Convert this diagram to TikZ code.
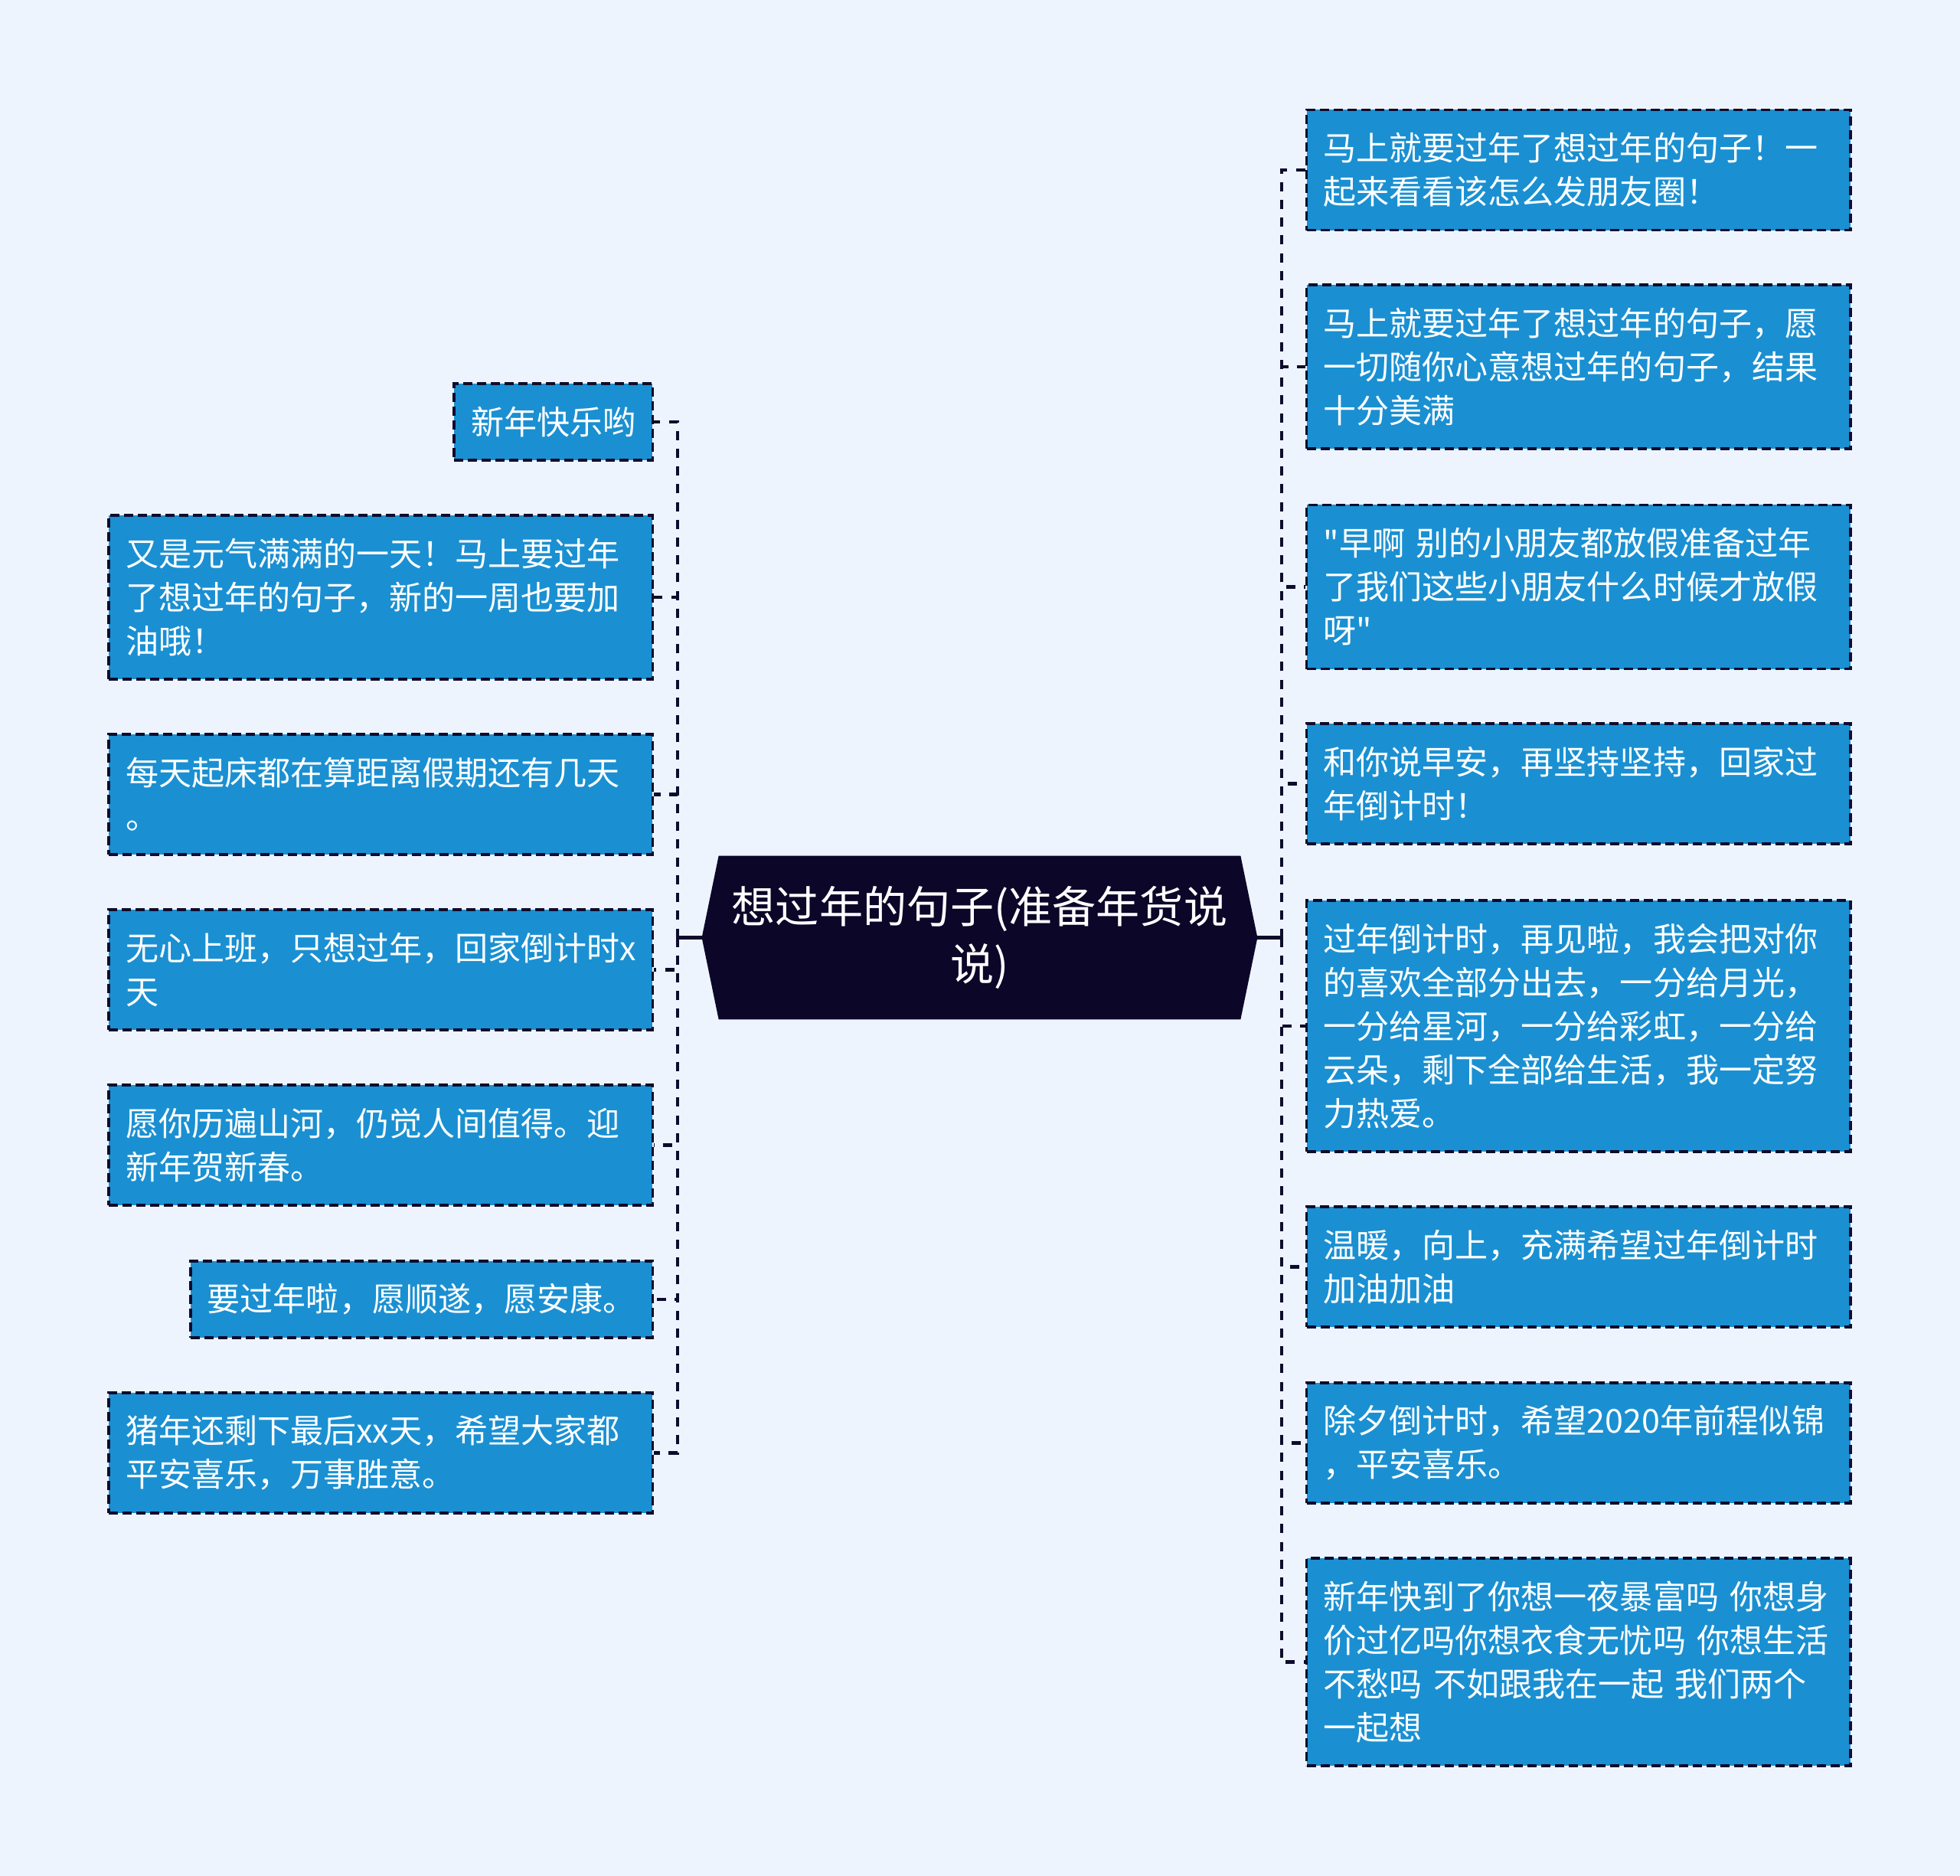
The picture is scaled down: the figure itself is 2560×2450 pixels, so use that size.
\documentclass[tikz,border=0pt]{standalone}
\usepackage{fontspec}
\newfontfamily\cjk{Noto Sans CJK SC}
\usetikzlibrary{backgrounds}
\definecolor{pagebg}{RGB}{238,244,254}
\definecolor{leafblue}{RGB}{26,144,210}
\definecolor{inkline}{RGB}{14,12,44}
\definecolor{rootink}{RGB}{12,6,41}

\begin{document}
\begin{tikzpicture}[
    x=0.025cm, y=-0.025cm,
    leaf/.style={rectangle, fill=leafblue, draw=inkline, line width=0.085cm,
        dash pattern=on 0.3cm off 0.15cm, text=white,
        font=\cjk\fontsize{30.6pt}{40.5pt}\selectfont, align=left,
        inner xsep=0.55cm, inner ysep=0.1cm},
    wide/.style={text width=16.65cm},
    root/.style={text=white, font=\cjk\fontsize{40.6pt}{53.3pt}\selectfont,
        align=center, minimum width=17.025cm, minimum height=5.325cm},
    link/.style={draw=inkline, line width=0.12cm, dash pattern=on 0.3cm off 0.28cm},
    stem/.style={draw=inkline, line width=0.12cm}
]
\useasboundingbox (0,0) rectangle (2560,2450);

\node[root] (root) at (1279.5,1224.5) {想过年的句子(准备年货说\\说)};
\coordinate (rootl) at ([xshift=-0.55cm]root.west);
\coordinate (rootr) at ([xshift=0.55cm]root.east);
\coordinate (ltrunk) at (885,1224.5);
\coordinate (rtrunk) at (1674,1224.5);

\begin{scope}[on background layer]
\fill[pagebg] (0,0) rectangle (2560,2450);
\fill[rootink] (root.north west) -- (root.north east) -- (rootr)
    -- (root.south east) -- (root.south west) -- (rootl) -- cycle;
\end{scope}

\node[leaf, anchor=east, minimum height=2.5cm] (l1) at (854,551) {新年快乐哟};
\node[leaf, wide, anchor=east, minimum height=5.35cm] (l2) at (854,780) {又是元气满满的一天！马上要过年\\了想过年的句子，新的一周也要加\\油哦！};
\node[leaf, wide, anchor=east, minimum height=3.925cm] (l3) at (854,1037.5) {每天起床都在算距离假期还有几天\\。};
\node[leaf, wide, anchor=east, minimum height=3.925cm] (l4) at (854,1266.5) {无心上班，只想过年，回家倒计时x\\天};
\node[leaf, wide, anchor=east, minimum height=3.925cm] (l5) at (854,1495.5) {愿你历遍山河，仍觉人间值得。迎\\新年贺新春。};
\node[leaf, anchor=east, minimum height=2.5cm] (l6) at (854,1697) {要过年啦，愿顺遂，愿安康。};
\node[leaf, wide, anchor=east, minimum height=3.925cm] (l7) at (854,1897.5) {猪年还剩下最后xx天，希望大家都\\平安喜乐，万事胜意。};

\node[leaf, wide, anchor=west, minimum height=3.925cm] (r1) at (1705,222) {马上就要过年了想过年的句子！一\\起来看看该怎么发朋友圈！};
\node[leaf, wide, anchor=west, minimum height=5.35cm] (r2) at (1705,479) {马上就要过年了想过年的句子，愿\\一切随你心意想过年的句子，结果\\十分美满};
\node[leaf, wide, anchor=west, minimum height=5.35cm] (r3) at (1705,766.5) {"早啊 别的小朋友都放假准备过年\\了我们这些小朋友什么时候才放假\\呀"};
\node[leaf, wide, anchor=west, minimum height=3.925cm] (r4) at (1705,1023.5) {和你说早安，再坚持坚持，回家过\\年倒计时！};
\node[leaf, wide, anchor=west, minimum height=8.2cm] (r5) at (1705,1340) {过年倒计时，再见啦，我会把对你\\的喜欢全部分出去，一分给月光，\\一分给星河，一分给彩虹，一分给\\云朵，剩下全部给生活，我一定努\\力热爱。};
\node[leaf, wide, anchor=west, minimum height=3.925cm] (r6) at (1705,1654.5) {温暖，向上，充满希望过年倒计时\\加油加油};
\node[leaf, wide, anchor=west, minimum height=3.925cm] (r7) at (1705,1884.5) {除夕倒计时，希望2020年前程似锦\\，平安喜乐。};
\node[leaf, wide, anchor=west, minimum height=6.775cm] (r8) at (1705,2170.5) {新年快到了你想一夜暴富吗 你想身\\价过亿吗你想衣食无忧吗 你想生活\\不愁吗 不如跟我在一起 我们两个\\一起想};

\draw[stem] (rootl) -- (ltrunk);
\draw[stem] (rootr) -- (rtrunk);
\foreach \n in {l1,l2,l3,l4,l5,l6,l7}
    \draw[link] (ltrunk) |- (\n.east);
\foreach \n in {r1,r2,r3,r4,r5,r6,r7,r8}
    \draw[link] (rtrunk) |- (\n.west);
\end{tikzpicture}
\end{document}
